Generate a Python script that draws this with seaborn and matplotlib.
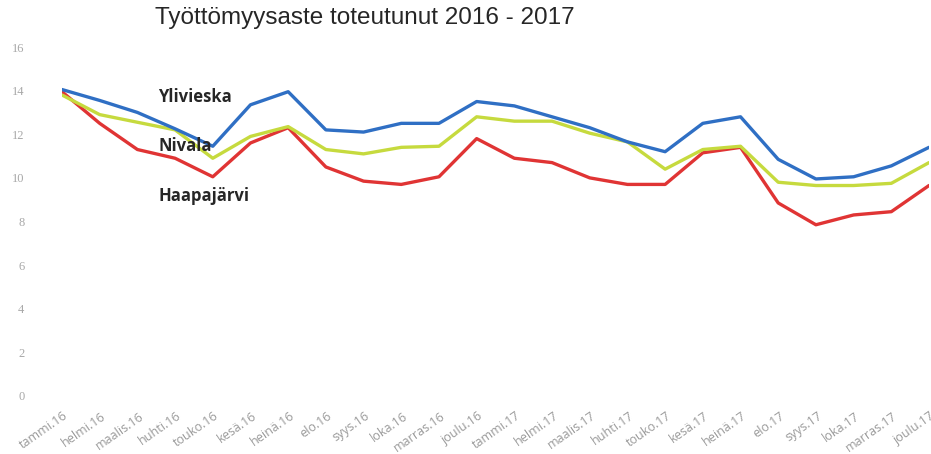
import numpy as np
import pandas as pd
import matplotlib
matplotlib.use("Agg")
import matplotlib.pyplot as plt
import matplotlib.transforms as mtransforms
import seaborn as sns

months = ["tammi.16", "helmi.16", "maalis.16", "huhti.16", "touko.16", "kesä.16",
          "heinä.16", "elo.16", "syys.16", "loka.16", "marras.16", "joulu.16",
          "tammi.17", "helmi.17", "maalis.17", "huhti.17", "touko.17", "kesä.17",
          "heinä.17", "elo.17", "syys.17", "loka.17", "marras.17", "joulu.17"]

ylivieska = [14.05, 13.55, 13.0, 12.25, 11.45, 13.35, 13.95, 12.2, 12.1, 12.5, 12.5, 13.5,
             13.3, 12.8, 12.3, 11.65, 11.2, 12.5, 12.8, 10.85, 9.95, 10.05, 10.55, 11.4]
nivala = [13.8, 12.9, 12.55, 12.2, 10.9, 11.9, 12.35, 11.3, 11.1, 11.4, 11.45, 12.8,
          12.6, 12.6, 12.05, 11.65, 10.4, 11.3, 11.45, 9.8, 9.65, 9.65, 9.75, 10.7]
haapajarvi = [13.95, 12.5, 11.3, 10.9, 10.05, 11.6, 12.3, 10.5, 9.85, 9.7, 10.05, 11.8,
              10.9, 10.7, 10.0, 9.7, 9.7, 11.15, 11.4, 8.85, 7.85, 8.3, 8.45, 9.65]

series = {"Ylivieska": ylivieska, "Nivala": nivala, "Haapajärvi": haapajarvi}
colors = {"Ylivieska": "#2f6fc4", "Nivala": "#c6da3e", "Haapajärvi": "#e03434"}

rows = []
for name, vals in series.items():
    for i, v in enumerate(vals):
        rows.append({"kk": i, "arvo": v, "kunta": name})
df = pd.DataFrame(rows)

sns.set_style("white")
plt.rcParams["font.family"] = ["Open Sans", "DejaVu Sans"]

fig = plt.figure(figsize=(9.31, 4.54), dpi=100)
ax = fig.add_axes([62 / 931, 58 / 454, 867 / 931, 349 / 454])

sns.lineplot(data=df, x="kk", y="arvo", hue="kunta", palette=colors,
             hue_order=["Haapajärvi", "Nivala", "Ylivieska"],
             linewidth=2.4, legend=False, ax=ax)

ax.set_xlim(0, 23)
ax.set_ylim(0, 16)
ax.set_yticks(range(0, 17, 2))
ax.set_xticks(range(len(months)))
ax.set_xticklabels(months, rotation=35, ha="right", rotation_mode="anchor")
ax.tick_params(axis="y", length=0, pad=27, labelsize=9, labelcolor="#a8a8a8")
ax.tick_params(axis="x", length=0, pad=6, labelsize=9, labelcolor="#9a9a9a")
for lbl in ax.get_yticklabels():
    lbl.set_family(["Liberation Serif", "DejaVu Serif"])
shift = mtransforms.ScaledTranslation(1 / 100, -5 / 100, fig.dpi_scale_trans)
for lbl in ax.get_xticklabels():
    lbl.set_transform(lbl.get_transform() + shift)
ax.set_xlabel("")
ax.set_ylabel("")
sns.despine(ax=ax, left=True, bottom=True)

# sarjojen nimet
ax.text(2.55, 13.7, "Ylivieska", fontsize=12, fontweight="bold", va="center")
ax.text(2.55, 11.45, "Nivala", fontsize=12, fontweight="bold", va="center")
ax.text(2.55, 9.15, "Haapajärvi", fontsize=12, fontweight="bold", va="center")

fig.text(365 / 931, 1 - 18 / 454, "Työttömyysaste toteutunut 2016 - 2017",
         ha="center", va="center", fontsize=17.5, family=["Liberation Sans", "DejaVu Sans"])

fig.savefig("out.png", dpi=100)
